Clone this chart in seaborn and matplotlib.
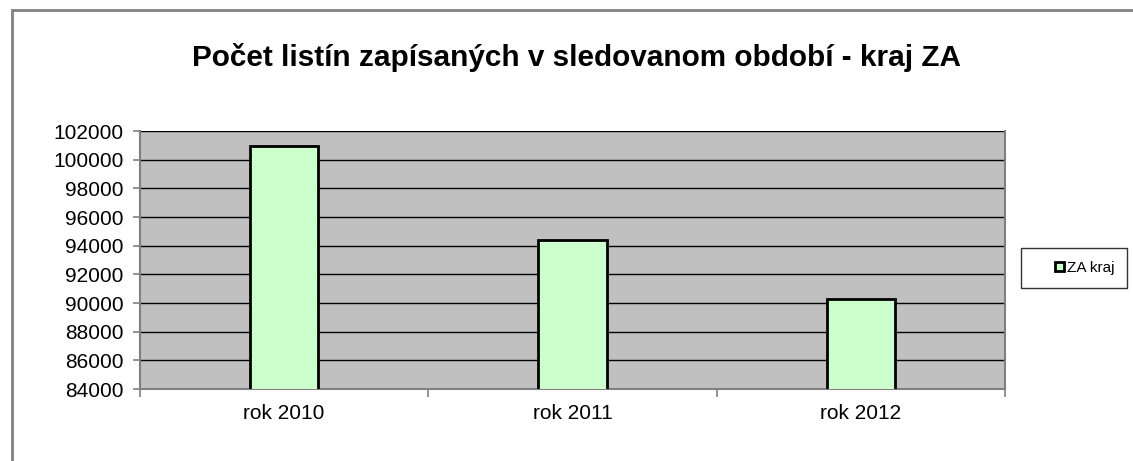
import matplotlib
matplotlib.use("Agg")
import matplotlib.pyplot as plt
import matplotlib.patches as mpatches
from matplotlib.legend_handler import HandlerPatch
import seaborn as sns
import pandas as pd

# data
years = ["rok 2010", "rok 2011", "rok 2012"]
counts = [100950, 94390, 90280]
series_name = "ZA kraj"
title = "Počet listín zapísaných v sledovanom období - kraj ZA"
y_ticks = list(range(84000, 102001, 2000))

sns.set_style("white")
plt.rcParams["font.family"] = ["Liberation Sans", "DejaVu Sans"]
plt.rcParams["text.color"] = "black"
plt.rcParams["xtick.color"] = "black"
plt.rcParams["ytick.color"] = "black"

df = pd.DataFrame({"rok": years, "pocet": counts})

W, H = 1133, 461
fig = plt.figure(figsize=(W / 100, H / 100), dpi=100)
ax = fig.add_axes([140 / W, 1 - 389 / H, (1005 - 140) / W, (389 - 131) / H])

sns.barplot(data=df, x="rok", y="pocet", ax=ax, color="#CCFFCC",
            edgecolor="black", linewidth=2, width=0.236, saturation=1,
            zorder=3)

ax.set_facecolor("#C0C0C0")
ax.set_ylim(84000, 102000)
ax.set_xlim(-0.5, 2.5)
ax.set_yticks(y_ticks)
ax.set_yticklabels([str(t) for t in y_ticks], fontsize=15)
ax.yaxis.grid(True, color="black", linewidth=1, zorder=1)
ax.set_axisbelow(True)
ax.set_xlabel("")
ax.set_ylabel("")

# category ticks sit between the groups
ax.set_xticks([-0.5, 0.5, 1.5, 2.5])
ax.set_xticklabels([])
ax.set_xticks([0, 1, 2], minor=True)
ax.set_xticklabels(years, minor=True, fontsize=15)
ax.tick_params(axis="x", which="minor", bottom=False, length=0, pad=11)
ax.tick_params(axis="x", which="major", bottom=True, length=6, width=1.2,
               color="#808080", direction="out")
ax.tick_params(axis="y", left=True, length=5, width=1.2, color="#808080",
               direction="out", pad=7)

for side in ["left", "bottom", "right"]:
    ax.spines[side].set_color("#808080")
    ax.spines[side].set_linewidth(1.5)
ax.spines["top"].set_visible(False)

fig.text(577 / W, 1 - 57 / H, title, ha="center", va="center",
         fontsize=21.4, fontweight="bold", color="black")

# outer chart-area border
fig.patches.append(mpatches.Rectangle((12 / W, -0.1), 2, 1 - 10.5 / H + 0.1,
                                      transform=fig.transFigure, fill=False,
                                      edgecolor="#808080", linewidth=2))


def small_square(legend, orig_handle, xdescent, ydescent, width, height, fontsize):
    s = 0.6 * fontsize
    return mpatches.Rectangle((width - s - xdescent, (height - s) / 2 - ydescent), s, s)


handle = mpatches.Patch(facecolor="#CCFFCC", edgecolor="black", linewidth=2)
leg = fig.legend([handle], [series_name], loc="center left",
                 bbox_to_anchor=(1021 / W, 1 - 268 / H), fontsize=11,
                 frameon=True, fancybox=False, handlelength=1.95,
                 handleheight=0.7, handletextpad=0.2, borderpad=0.85,
                 borderaxespad=0,
                 handler_map={mpatches.Patch: HandlerPatch(patch_func=small_square)})
leg.get_frame().set_edgecolor("black")
leg.get_frame().set_linewidth(1)

fig.savefig("out.png", dpi=100, facecolor="white")
